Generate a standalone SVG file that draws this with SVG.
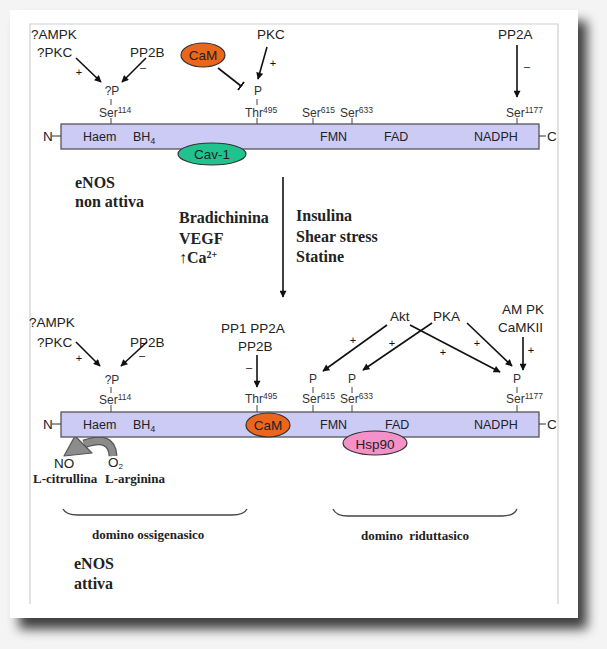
<svg xmlns="http://www.w3.org/2000/svg" width="607" height="649" viewBox="0 0 607 649">
<defs>
<filter id="sh" x="-10%" y="-10%" width="130%" height="130%">
<feGaussianBlur in="SourceAlpha" stdDeviation="6"/>
<feOffset dx="9" dy="11" result="b"/>
<feComponentTransfer><feFuncA type="linear" slope="0.75"/></feComponentTransfer>
<feMerge><feMergeNode/><feMergeNode in="SourceGraphic"/></feMerge>
</filter>
<marker id="ah" viewBox="0 0 10 10" refX="9" refY="5" markerWidth="8" markerHeight="7" markerUnits="userSpaceOnUse" orient="auto">
<path d="M0,0 L10,5 L0,10 Z" fill="#111"/>
</marker>
<marker id="tb" viewBox="0 0 2 10" refX="1" refY="5" markerWidth="2" markerHeight="11" markerUnits="userSpaceOnUse" orient="auto">
<rect x="0" y="0" width="2" height="10" fill="#111"/>
</marker>
</defs>
<style>
.a{font-family:"Liberation Sans",Arial,sans-serif;font-size:13.5px;fill:#222}
.s{font-family:"Liberation Sans",Arial,sans-serif;font-size:12px;fill:#333}
.sup{font-size:8.5px}
.b{font-family:"Liberation Sans",Arial,sans-serif;font-size:12.5px;fill:#222}
.t{font-family:"Liberation Serif","Times New Roman",serif;font-weight:bold;font-size:16px;fill:#222}
.tm{font-family:"Liberation Serif","Times New Roman",serif;font-weight:bold;font-size:13px;fill:#222}
.pm{font-family:"Liberation Sans",Arial,sans-serif;font-size:11px;fill:#111}
.ar{stroke:#111;stroke-width:1.6;fill:none;marker-end:url(#ah)}
.tk{stroke:#444;stroke-width:1}
.bar{fill:#cbcbf6;stroke:#555;stroke-width:1.3}
.ln{stroke:#333;stroke-width:1}
.br{fill:none;stroke:#444;stroke-width:1.3}
</style>
<rect x="0" y="0" width="607" height="649" fill="#f4f4f4"/>
<rect x="10" y="10" width="568" height="608" fill="#fff" filter="url(#sh)"/>
<path d="M30,604 V24 H558 V604" fill="none" stroke="#d0d0d0" stroke-width="1.2"/>

<!-- TOP: inactive eNOS -->
<g id="top-bar">
<rect class="bar" x="61" y="124" width="478" height="25"/>
<line class="ln" x1="52" y1="136" x2="61" y2="136"/>
<text class="a" x="43" y="141" font-size="12.5">N</text>
<line class="ln" x1="539" y1="136" x2="546" y2="136"/>
<text class="a" x="547" y="141" font-size="12.5">C</text>
<text class="b" x="83" y="141">Haem</text>
<text class="b" x="133" y="141">BH<tspan class="sup" dy="3">4</tspan></text>
<text class="b" x="320" y="141">FMN</text>
<text class="b" x="384" y="141">FAD</text>
<text class="b" x="474" y="141">NADPH</text>
</g>
<g id="top-cav1">
<ellipse cx="212" cy="154" rx="34" ry="11" fill="#22c28f" stroke="#333" stroke-width="1.2"/>
<text class="a" x="212" y="159" text-anchor="middle" font-size="14">Cav-1</text>
</g>
<g id="top-cam">
<ellipse cx="203" cy="55" rx="22" ry="12" fill="#ea661c" stroke="#333" stroke-width="1.2"/>
<text class="a" x="203" y="60" text-anchor="middle">CaM</text>
</g>
<g id="top-ser114">
<text class="a" x="31" y="39">?AMPK</text>
<text class="a" x="37" y="57">?PKC</text>
<text class="a" x="130" y="57">PP2B</text>
<text class="s" x="112" y="95" text-anchor="middle">?P</text>
<text class="s" x="99" y="117">Ser<tspan class="sup" dy="-4">114</tspan></text>
</g>
<g id="top-thr495">
<text class="a" x="257" y="39">PKC</text>
<text class="s" x="258" y="95" text-anchor="middle">P</text>
<text class="s" x="245" y="117">Thr<tspan class="sup" dy="-4">495</tspan></text>
</g>
<g id="top-ser615"><text class="s" x="302" y="117">Ser<tspan class="sup" dy="-4">615</tspan></text></g>
<g id="top-ser633"><text class="s" x="340" y="117">Ser<tspan class="sup" dy="-4">633</tspan></text></g>
<g id="top-ser1177">
<text class="a" x="498" y="39">PP2A</text>
<text class="s" x="506" y="117">Ser<tspan class="sup" dy="-4">1177</tspan></text>
</g>
<g id="top-label">
<text class="t" x="75" y="188">eNOS</text>
<text class="t" x="75" y="207">non attiva</text>
</g>

<!-- MIDDLE -->
<g id="stimuli">
<text class="t" x="179" y="223">Bradichinina</text>
<text class="t" x="179" y="244">VEGF</text>
<text class="t" x="179" y="263">↑Ca<tspan font-size="10" dy="-5">2+</tspan></text>
<text class="t" x="296" y="221">Insulina</text>
<text class="t" x="296" y="242">Shear stress</text>
<text class="t" x="296" y="262">Statine</text>
</g>

<!-- BOTTOM: active eNOS -->
<g id="no-arrow">
<path d="M113,456 Q112,434 84,444" fill="none" stroke="#555" stroke-width="9"/>
<path d="M113,456 Q112,434 84,444" fill="none" stroke="#8c8c8c" stroke-width="6.5"/>
<polygon points="75,436 92,453 64,456" fill="#8c8c8c" stroke="#555" stroke-width="1.2" stroke-linejoin="round"/>
</g>
<g id="bottom-bar">
<rect class="bar" x="61" y="412" width="478" height="25"/>
<line class="ln" x1="52" y1="424" x2="61" y2="424"/>
<text class="a" x="43" y="429" font-size="12.5">N</text>
<line class="ln" x1="539" y1="424" x2="546" y2="424"/>
<text class="a" x="547" y="429" font-size="12.5">C</text>
<text class="b" x="83" y="429">Haem</text>
<text class="b" x="133" y="429">BH<tspan class="sup" dy="3">4</tspan></text>
<text class="b" x="320" y="429">FMN</text>
<text class="b" x="385" y="429">FAD</text>
<text class="b" x="474" y="429">NADPH</text>
</g>
<g id="bottom-cam">
<ellipse cx="268" cy="425" rx="22" ry="12" fill="#ea661c" stroke="#333" stroke-width="1.2"/>
<text class="a" x="268" y="430" text-anchor="middle">CaM</text>
</g>
<g id="bottom-hsp90">
<ellipse cx="375" cy="443" rx="32" ry="12" fill="#f491c9" stroke="#333" stroke-width="1.2"/>
<text class="a" x="375" y="449" text-anchor="middle" font-size="15">Hsp90</text>
</g>
<g id="bottom-ser114">
<text class="a" x="29" y="327">?AMPK</text>
<text class="a" x="37" y="347">?PKC</text>
<text class="a" x="130" y="347">PP2B</text>
<text class="s" x="112" y="384" text-anchor="middle">?P</text>
<text class="s" x="99" y="404">Ser<tspan class="sup" dy="-4">114</tspan></text>
</g>
<g id="bottom-thr495">
<text class="a" x="221" y="333">PP1 PP2A</text>
<text class="a" x="238" y="351">PP2B</text>
<text class="s" x="245" y="403">Thr<tspan class="sup" dy="-4">495</tspan></text>
</g>
<g id="bottom-ser615">
<text class="s" x="313" y="383" text-anchor="middle">P</text>
<text class="s" x="302" y="403">Ser<tspan class="sup" dy="-4">615</tspan></text>
</g>
<g id="bottom-ser633">
<text class="s" x="352" y="383" text-anchor="middle">P</text>
<text class="s" x="340" y="403">Ser<tspan class="sup" dy="-4">633</tspan></text>
</g>
<g id="kinases">
<text class="a" x="390" y="321">Akt</text>
<text class="a" x="433" y="321">PKA</text>
<text class="a" x="502" y="314">AM PK</text>
<text class="a" x="498" y="332">CaMKII</text>
</g>
<g id="bottom-ser1177">
<text class="s" x="517" y="383" text-anchor="middle">P</text>
<text class="s" x="506" y="403">Ser<tspan class="sup" dy="-4">1177</tspan></text>
</g>
<g id="products">
<text class="a" x="54" y="468" font-size="13">NO</text>
<text class="a" x="108" y="467" font-size="13">O<tspan font-size="8" dy="2">2</tspan></text>
<text class="tm" x="33" y="483">L-citrullina</text>
<text class="tm" x="105" y="483">L-arginina</text>
</g>
<g id="domains">
<path class="br" d="M63,509 Q66,515 78,515 L232,515 Q244,515 247,509"/>
<text class="tm" x="92" y="539">domino ossigenasico</text>
<path class="br" d="M333,509 Q336,516 348,516 L502,516 Q514,516 517,509"/>
<text class="tm" x="361" y="540" word-spacing="3">domino riduttasico</text>
</g>
<g id="bottom-label">
<text class="t" x="74" y="569">eNOS</text>
<text class="t" x="74" y="589">attiva</text>
</g>

<!-- CONNECTORS -->
<g id="connectors">
<line class="tk" x1="111" y1="99" x2="111" y2="105"/>
<line class="tk" x1="111" y1="118" x2="111" y2="124"/>
<line class="tk" x1="257" y1="99" x2="257" y2="105"/>
<line class="tk" x1="257" y1="118" x2="257" y2="124"/>
<line class="tk" x1="313" y1="118" x2="313" y2="124"/>
<line class="tk" x1="352" y1="118" x2="352" y2="124"/>
<line class="tk" x1="517" y1="118" x2="517" y2="124"/>
<line class="ar" x1="76" y1="58" x2="101" y2="82"/>
<line class="ar" x1="146" y1="58" x2="122" y2="82"/>
<text class="pm" x="79" y="76" text-anchor="middle">+</text>
<text class="pm" x="143" y="71" text-anchor="middle">–</text>
<line x1="218" y1="68" x2="241" y2="86" stroke="#111" stroke-width="1.6" marker-end="url(#tb)"/>
<line class="ar" x1="267" y1="47" x2="258" y2="79"/>
<text class="pm" x="273" y="67" text-anchor="middle">+</text>
<line class="ar" x1="517" y1="45" x2="517" y2="97"/>
<text class="pm" x="527" y="70" text-anchor="middle">–</text>
<line class="ar" x1="283" y1="177" x2="283" y2="297" stroke-width="1.8"/>
<line class="tk" x1="111" y1="387" x2="111" y2="393"/>
<line class="tk" x1="111" y1="405" x2="111" y2="412"/>
<line class="tk" x1="257" y1="405" x2="257" y2="412"/>
<line class="tk" x1="313" y1="387" x2="313" y2="393"/>
<line class="tk" x1="313" y1="405" x2="313" y2="412"/>
<line class="tk" x1="352" y1="387" x2="352" y2="393"/>
<line class="tk" x1="352" y1="405" x2="352" y2="412"/>
<line class="tk" x1="517" y1="387" x2="517" y2="393"/>
<line class="tk" x1="517" y1="405" x2="517" y2="412"/>
<line class="ar" x1="76" y1="342" x2="100" y2="366"/>
<line class="ar" x1="147" y1="342" x2="121" y2="366"/>
<text class="pm" x="79" y="362" text-anchor="middle">+</text>
<text class="pm" x="142" y="359" text-anchor="middle">–</text>
<line class="ar" x1="257" y1="355" x2="257" y2="387"/>
<text class="pm" x="249" y="371" text-anchor="middle">–</text>
<line class="ar" x1="387" y1="325" x2="323" y2="371"/>
<text class="pm" x="353" y="344" text-anchor="middle">+</text>
<line class="ar" x1="432" y1="323" x2="363" y2="370"/>
<text class="pm" x="392" y="347" text-anchor="middle">+</text>
<line class="ar" x1="410" y1="325" x2="500" y2="372"/>
<text class="pm" x="443" y="356" text-anchor="middle">+</text>
<line class="ar" x1="467" y1="323" x2="512" y2="366"/>
<text class="pm" x="477" y="347" text-anchor="middle">+</text>
<line class="ar" x1="523" y1="337" x2="523" y2="370"/>
<text class="pm" x="531" y="354" text-anchor="middle">+</text>
</g>
</svg>
